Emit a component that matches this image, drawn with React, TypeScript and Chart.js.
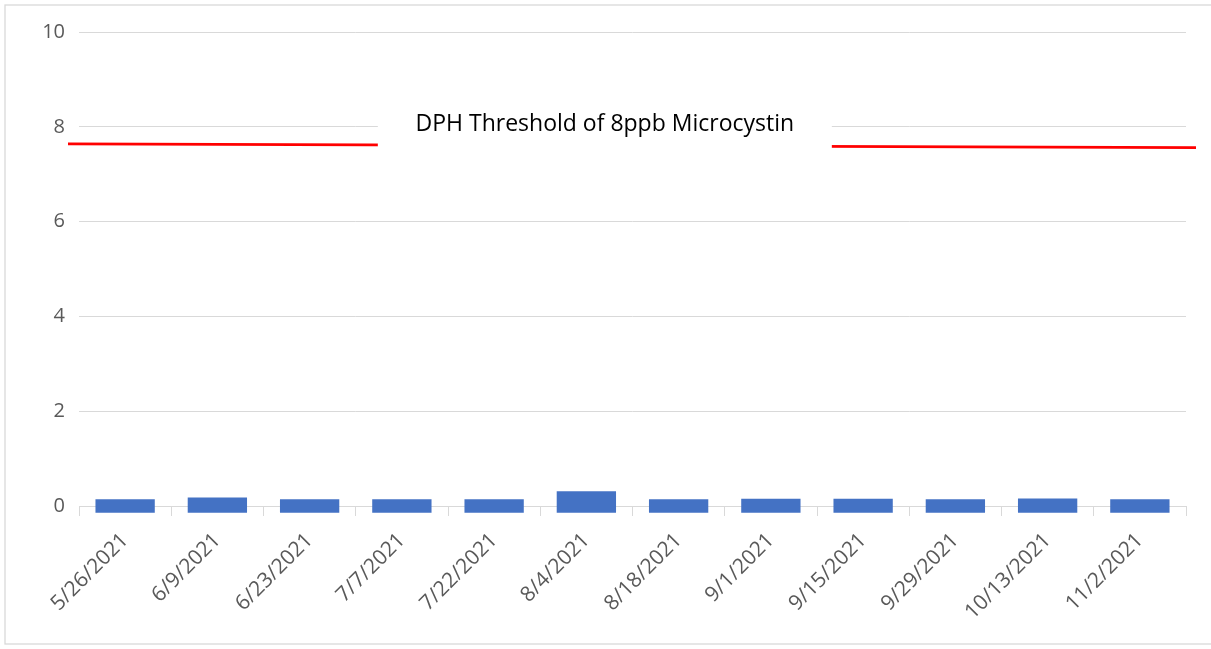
import React, { useEffect, useRef } from 'react';
import { Chart, registerables } from 'chart.js';

Chart.register(...registerables);

const categories = [
  '5/26/2021', '6/9/2021', '6/23/2021', '7/7/2021', '7/22/2021', '8/4/2021',
  '8/18/2021', '9/1/2021', '9/15/2021', '9/29/2021', '10/13/2021', '11/2/2021',
];
const microcystin = [0.14, 0.18, 0.14, 0.14, 0.14, 0.31, 0.14, 0.155, 0.155, 0.14, 0.16, 0.14];
const barBase = -0.14;
const thresholdLine = [7.64, 7.56];
const thresholdLabel = 'DPH Threshold of 8ppb Microcystin';
const yTicks = [0, 2, 4, 6, 8, 10];

const FONT = "'Open Sans', 'Noto Sans', sans-serif";

const overlay = {
  id: 'overlay',
  beforeDraw(chart: any) {
    const { ctx, width, height } = chart;
    ctx.save();
    ctx.fillStyle = '#ffffff';
    ctx.fillRect(0, 0, width, height);
    ctx.strokeStyle = '#d9d9d9';
    ctx.lineWidth = 1.3;
    ctx.strokeRect(5, 5, width + 10, height - 10);
    ctx.restore();
  },
  afterDatasetsDraw(chart: any) {
    const { ctx, chartArea, scales } = chart;
    const y = scales.y;
    ctx.save();
    ctx.strokeStyle = '#ff0000';
    ctx.lineWidth = 2.6;
    ctx.beginPath();
    ctx.moveTo(chartArea.left - 11, y.getPixelForValue(thresholdLine[0]));
    ctx.lineTo(chartArea.right + 10, y.getPixelForValue(thresholdLine[1]));
    ctx.stroke();

    const cx = chartArea.left + (chartArea.right - chartArea.left) * 0.475;
    const cy = y.getPixelForValue(8) - 2;
    ctx.fillStyle = '#ffffff';
    ctx.fillRect(cx - 227, cy - 24, 454, 50);
    ctx.fillStyle = '#000000';
    ctx.font = `23px ${FONT}`;
    ctx.textAlign = 'center';
    ctx.textBaseline = 'middle';
    ctx.fillText(thresholdLabel, cx, cy);
    ctx.restore();
  },
};

export default function App() {
  const ref = useRef<HTMLCanvasElement | null>(null);
  useEffect(() => {
    if (!ref.current) return;
    const chart = new Chart(ref.current, {
      type: 'bar',
      data: {
        labels: categories,
        datasets: [
          {
            label: 'Microcystin',
            data: microcystin.map((v) => [barBase, v]) as any,
            backgroundColor: '#4472C4',
            categoryPercentage: 1,
            barPercentage: 0.643,
            clip: false as any,
          },
        ],
      },
      options: {
        animation: false,
        responsive: true,
        maintainAspectRatio: false,
        layout: { padding: { top: 32, right: 25, left: 0, bottom: 0 } },
        plugins: { legend: { display: false }, tooltip: { enabled: false } },
        scales: {
          x: {
            grid: {
              offset: true,
              drawOnChartArea: false,
              drawTicks: true,
              tickLength: 10,
              color: '#d9d9d9',
            },
            border: { display: true, color: '#d9d9d9' },
            ticks: {
              color: '#595959',
              font: { family: FONT, size: 21 },
              maxRotation: 45,
              minRotation: 45,
              autoSkip: false,
              padding: 12,
            },
            afterFit: (s: any) => {
              s.height = 143;
            },
          },
          y: {
            min: 0,
            max: 10,
            grid: { color: '#d9d9d9', drawTicks: false },
            border: { display: false },
            ticks: {
              color: '#595959',
              font: { family: FONT, size: 20 },
              padding: 14,
            },
            afterBuildTicks: (s: any) => {
              s.ticks = yTicks.map((v) => ({ value: v }));
            },
            afterFit: (s: any) => {
              s.width = 79;
            },
          },
        },
      },
      plugins: [overlay],
    });
    return () => chart.destroy();
  }, []);
  return (
    <div style={{ position: 'absolute', left: 0, top: 0, width: 1211, height: 649 }}>
      <canvas ref={ref} />
    </div>
  );
}
